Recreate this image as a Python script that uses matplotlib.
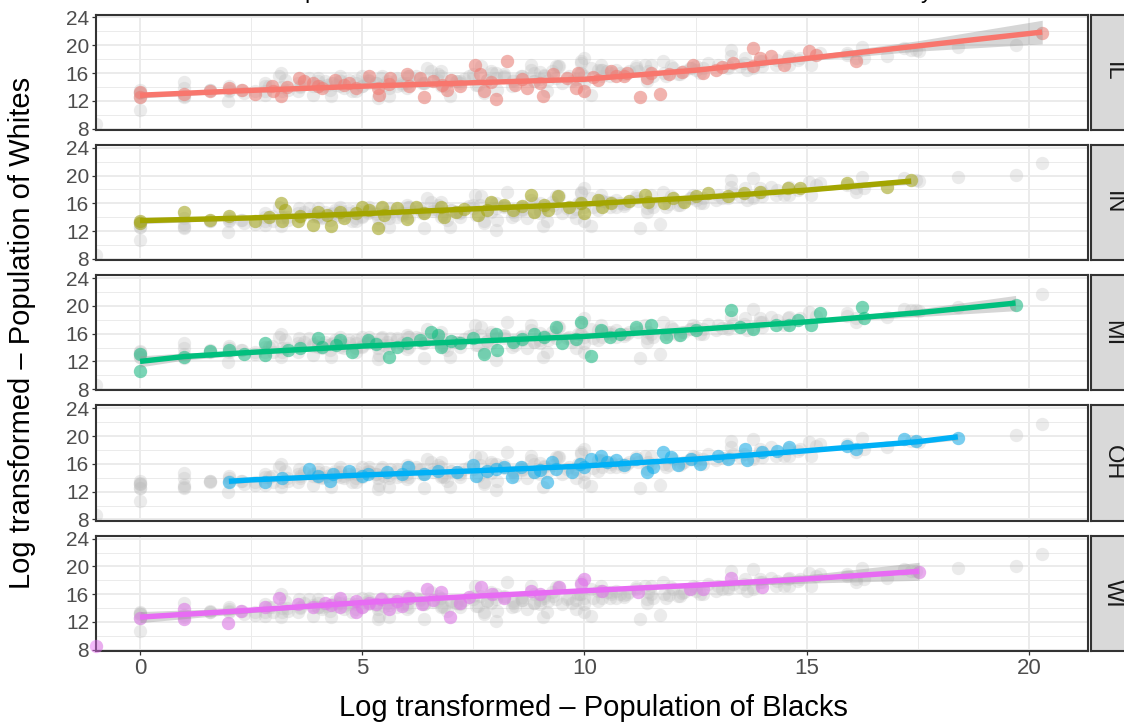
import numpy as np
import matplotlib
matplotlib.use('Agg')
import matplotlib.pyplot as plt

plt.rcParams['font.family'] = ['Liberation Sans', 'DejaVu Sans']

#===== states and ggplot hue colours =====#
states = ['IL', 'IN', 'MI', 'OH', 'WI']
state_colors = ['#F8766D', '#A3A500', '#00BF7D', '#00B0F6', '#E76BF3']

#===== log2 county populations: x = blacks, y = whites =====#
il_black = [0, 0, 0.99, 1.58, 2.0, 2.3, 2.58, 2.98, 3.0, 3.17, 3.3, 3.58, 3.7, 3.9, 4.0, 4.1,
            4.39, 4.6, 4.7, 4.85, 5.16, 5.35, 5.38, 5.6, 5.63, 6.0, 6.06, 6.3, 6.4, 6.6, 6.8,
            6.9, 7.0, 7.2, 7.54, 7.64, 7.74, 7.9, 8.0, 8.26, 8.43, 8.6, 8.7, 9.0, 9.07, 9.3,
            9.6, 9.8, 9.86, 10.0, 10.2, 10.3, 10.6, 10.7, 10.9, 10.95, 11.25, 11.4, 11.5,
            11.7, 11.9, 12.2, 12.45, 12.66, 12.95, 13.1, 13.35, 13.8, 13.8, 13.95, 14.2,
            14.5, 15.05, 15.2, 16.1, 20.3]
il_white = [13.3, 12.6, 13.0, 13.4, 13.9, 13.6, 13.0, 14.2, 13.4, 12.7, 14.0, 15.3, 14.8, 14.5,
            14.1, 13.9, 15.05, 14.3, 14.6, 13.9, 15.5, 13.9, 12.9, 14.4, 15.3, 15.8, 14.1,
            15.3, 12.5, 14.9, 14.3, 13.6, 15.0, 14.1, 17.2, 15.8, 13.4, 14.7, 12.2, 17.7,
            14.3, 15.1, 13.9, 14.6, 12.7, 15.8, 15.3, 13.9, 16.0, 13.4, 15.4, 15.05, 16.25,
            15.5, 15.6, 16.0, 12.5, 15.3, 16.0, 13.0, 15.9, 16.2, 17.2, 16.0, 16.5, 16.8,
            17.45, 19.6, 17.0, 18.2, 18.4, 17.2, 19.1, 18.6, 17.7, 21.75]

in_black = [0, 0, 1.0, 1.58, 2.0, 2.58, 2.9, 3.17, 3.2, 3.27, 3.56, 3.6, 3.9, 4.0, 4.2, 4.3,
            4.49, 4.6, 4.85, 5.0, 5.16, 5.35, 5.45, 5.5, 5.78, 6.0, 6.2, 6.4, 6.78, 6.85, 7.1,
            7.3, 7.6, 7.8, 7.9, 8.2, 8.4, 8.6, 8.8, 8.86, 9.1, 9.18, 9.4, 9.65, 9.93, 10.0,
            10.3, 10.4, 10.6, 11.0, 11.37, 11.44, 11.8, 12.0, 12.23, 12.5, 12.77, 13.23, 13.6,
            13.95, 14.57, 14.85, 15.9, 16.8, 17.35]
in_white = [13.1, 13.5, 14.7, 13.6, 14.2, 13.4, 14.1, 16.0, 13.4, 15.05, 13.4, 14.2, 12.9, 14.8,
            14.3, 12.7, 14.8, 13.9, 14.6, 15.5, 15.05, 12.4, 15.5, 14.3, 15.3, 13.8, 15.5,
            14.6, 15.5, 14.1, 14.8, 15.2, 14.3, 15.0, 16.25, 15.8, 15.05, 15.6, 17.2, 14.8,
            15.7, 15.05, 17.0, 15.5, 16.0, 14.6, 16.5, 15.5, 16.0, 16.3, 17.2, 16.25, 16.0,
            16.7, 16.25, 17.0, 17.45, 17.0, 17.45, 17.7, 18.2, 18.2, 18.9, 18.4, 19.35]

mi_black = [0, 0, 1.0, 1.58, 2.0, 2.34, 2.81, 2.81, 3.34, 3.6, 4.0, 4.1, 4.4, 4.49, 4.78, 5.13,
            5.3, 5.6, 5.78, 6.0, 6.3, 6.54, 6.7, 6.78, 7.0, 7.2, 7.5, 7.74, 8.0, 8.03, 8.4,
            8.6, 8.86, 9.1, 9.36, 9.5, 9.8, 9.93, 10.15, 10.37, 10.58, 10.8, 11.15, 11.5,
            11.84, 12.16, 12.5, 13.3, 13.5, 13.8, 14.3, 14.6, 14.8, 15.1, 15.3, 16.25, 16.3,
            19.7]
mi_white = [13.1, 10.65, 12.65, 13.5, 13.6, 13.1, 14.6, 12.9, 13.6, 14.0, 15.3, 14.1, 14.3,
            15.05, 13.4, 15.05, 14.5, 12.65, 14.1, 14.6, 15.1, 16.25, 15.8, 14.1, 15.0, 14.6,
            15.3, 13.1, 16.0, 13.6, 14.8, 15.2, 16.0, 15.5, 17.0, 14.6, 15.2, 17.7, 12.8,
            16.5, 15.5, 16.0, 17.0, 17.2, 15.5, 15.8, 16.5, 19.35, 17.0, 16.7, 17.2, 17.2,
            17.9, 17.2, 18.9, 19.8, 18.2, 20.1]

oh_black = [2.0, 2.81, 3.2, 3.8, 4.0, 4.27, 4.34, 4.7, 5.0, 5.13, 5.56, 5.9, 6.03, 6.4, 6.7,
            7.14, 7.5, 7.57, 7.8, 8.0, 8.2, 8.36, 8.57, 8.86, 9.0, 9.15, 9.26, 9.36, 9.72,
            9.9, 10.0, 10.15, 10.37, 10.5, 10.72, 10.9, 11.15, 11.4, 11.55, 11.77, 11.94,
            12.1, 12.4, 12.6, 13.0, 13.23, 13.62, 13.66, 14.0, 14.34, 14.6, 15.9, 16.1, 17.2,
            17.46, 18.4]
oh_white = [13.4, 13.4, 14.0, 15.3, 14.2, 13.6, 14.6, 15.05, 14.2, 14.6, 14.8, 14.6, 15.5,
            14.6, 15.0, 14.8, 15.8, 14.3, 15.0, 15.3, 15.6, 14.1, 15.5, 14.8, 15.1, 13.4,
            16.25, 15.3, 14.8, 16.0, 15.5, 16.7, 17.2, 16.25, 16.5, 15.9, 16.7, 14.8, 15.5,
            17.7, 17.0, 15.8, 16.7, 16.0, 17.2, 16.7, 18.2, 16.5, 17.7, 17.9, 18.4, 18.6,
            18.2, 19.6, 19.35, 19.8]

# Menominee has no black residents -> log2(0) = -inf, drawn on the panel edge
wi_black = [-np.inf, 0, 1.0, 1.0, 1.98, 2.27, 2.81, 3.12, 3.56, 3.9, 4.16, 4.3, 4.49, 4.49,
            4.85, 4.85, 5.0, 5.16, 5.3, 5.42, 5.6, 5.78, 5.9, 6.06, 6.35, 6.45, 6.6, 6.78,
            6.97, 7.2, 7.4, 7.68, 7.93, 8.2, 8.79, 9.0, 9.43, 9.93, 10.0, 10.4, 11.2, 12.37,
            12.66, 13.3, 14.0, 17.53]
wi_white = [8.6, 12.6, 13.9, 12.5, 11.9, 13.6, 14.1, 15.5, 14.6, 14.2, 14.8, 14.5, 15.5, 14.1,
            15.05, 13.4, 14.1, 14.8, 14.6, 15.3, 13.9, 15.05, 14.3, 15.5, 14.6, 16.7, 15.2,
            16.25, 12.65, 14.8, 15.6, 17.0, 16.0, 15.4, 16.5, 16.1, 17.0, 17.45, 18.2, 16.4,
            16.3, 16.7, 16.7, 18.4, 17.0, 19.2]

#===== loess fit per state: knots, fitted value, ribbon half width =====#
il_fit_x = [0, 2.5, 5, 7.5, 10, 12.5, 15, 17.5, 20.3]
il_fit_y = [12.8, 13.5, 14.1, 14.6, 15.1, 16.4, 18.1, 19.9, 21.9]
il_fit_se = [0.4, 0.2, 0.15, 0.15, 0.15, 0.2, 0.35, 0.75, 1.7]

in_fit_x = [0, 2.5, 5, 7.5, 10, 12.5, 15, 17.35]
in_fit_y = [13.5, 13.9, 14.5, 15.2, 15.9, 16.8, 17.9, 19.2]
in_fit_se = [0.45, 0.2, 0.15, 0.12, 0.12, 0.15, 0.2, 0.45]

mi_fit_x = [0, 1, 2.5, 5, 7.5, 10, 12.5, 15, 17.5, 19.7]
mi_fit_y = [12.0, 12.7, 13.3, 14.2, 14.9, 15.6, 16.6, 17.7, 19.0, 20.4]
mi_fit_se = [0.8, 0.5, 0.3, 0.15, 0.12, 0.12, 0.15, 0.25, 0.55, 1.1]

oh_fit_x = [2.0, 2.5, 5, 7.5, 10, 12.5, 15, 17.5, 18.4]
oh_fit_y = [13.5, 13.7, 14.4, 15.0, 15.7, 16.7, 17.9, 19.2, 19.9]
oh_fit_se = [0.4, 0.3, 0.15, 0.12, 0.12, 0.15, 0.2, 0.3, 0.45]

wi_fit_x = [0, 2.5, 5, 7.5, 10, 12.5, 15, 17.53]
wi_fit_y = [12.7, 13.7, 14.8, 15.7, 16.5, 17.3, 18.2, 19.3]
wi_fit_se = [0.8, 0.35, 0.15, 0.12, 0.15, 0.3, 0.6, 1.3]

blacks = [il_black, in_black, mi_black, oh_black, wi_black]
whites = [il_white, in_white, mi_white, oh_white, wi_white]
fits = [(il_fit_x, il_fit_y, il_fit_se), (in_fit_x, in_fit_y, in_fit_se),
        (mi_fit_x, mi_fit_y, mi_fit_se), (oh_fit_x, oh_fit_y, oh_fit_se),
        (wi_fit_x, wi_fit_y, wi_fit_se)]

#===== layout (pixels) =====#
W, H = 1124.0, 723.0
p_left, p_right = 96.0, 1088.0
p_top, p_h, p_gap = 14.5, 115.3, 15.0
x_lim = (-0.99, 21.33)
y_lim = (7.82, 24.43)

fig = plt.figure(figsize=(W / 100, H / 100), dpi=100)

all_x = np.concatenate([np.array(b, dtype=float) for b in blacks])
all_y = np.concatenate([np.array(w, dtype=float) for w in whites])
all_x = np.where(np.isinf(all_x), x_lim[0], all_x)

for i, st in enumerate(states):
    top = p_top + i * (p_h + p_gap)
    bottom = 1 - (top + p_h) / H
    ax = fig.add_axes([p_left / W, bottom, (p_right - p_left) / W, p_h / H])

    # every county in grey behind the state's own counties
    ax.scatter(all_x, all_y, s=92, color='#BEBEBE', alpha=0.3, lw=0, zorder=2)
    sx = np.array(blacks[i], dtype=float)
    sx = np.where(np.isinf(sx), x_lim[0], sx)
    ax.scatter(sx, whites[i], s=92, color=state_colors[i], alpha=0.48, lw=0,
               zorder=3, clip_on=False)

    fx, fy, fse = [np.array(v, dtype=float) for v in fits[i]]
    ax.fill_between(fx, fy - fse, fy + fse, color='#999999', alpha=0.4, lw=0, zorder=4)
    ax.plot(fx, fy, color=state_colors[i], lw=3.9, zorder=5, solid_capstyle='butt')

    ax.set_xlim(x_lim)
    ax.set_ylim(y_lim)
    ax.set_xticks([0, 5, 10, 15, 20])
    ax.set_xticks([2.5, 7.5, 12.5, 17.5], minor=True)
    ax.set_yticks([8, 12, 16, 20, 24])
    ax.set_yticks([10, 14, 18, 22], minor=True)
    ax.grid(which='major', color='#EBEBEB', lw=1.4)
    ax.grid(which='minor', color='#EBEBEB', lw=0.7)
    ax.set_axisbelow(True)
    for sp in ax.spines.values():
        sp.set_color('#333333')
        sp.set_linewidth(1.5)
    ax.tick_params(which='minor', length=0)
    ax.tick_params(which='major', length=3, width=0.9, color='#333333',
                   labelcolor='#4D4D4D', pad=2)
    ax.tick_params(axis='y', labelsize=15)
    ax.tick_params(axis='x', labelsize=16)
    if i < len(states) - 1:
        ax.tick_params(axis='x', length=0, labelbottom=False)

    # facet strip on the right
    sax = fig.add_axes([1090.5 / W, bottom, 44 / W, p_h / H])
    sax.set_facecolor('#D9D9D9')
    sax.set_xticks([])
    sax.set_yticks([])
    for sp in sax.spines.values():
        sp.set_color('#333333')
        sp.set_linewidth(1.5)
    sax.text(0.5, 0.5, st, rotation=270, ha='center', va='center',
             fontsize=17, color='#1A1A1A', transform=sax.transAxes)

# plot title sits above the saved area; only its descenders reach the canvas
fig.text(592 / W, 1 + 2.0 / H,
         'Relationship between White and Black Residents in Midwest Counties by State',
         ha='center', va='baseline', fontsize=16.5, color='black')
fig.text(593 / W, 1 - 708 / H, 'Log transformed \u2013 Population of Blacks',
         ha='center', va='center', fontsize=21)
fig.text(22 / W, 1 - 332.7 / H, 'Log transformed \u2013 Population of Whites',
         ha='center', va='center', rotation=90, fontsize=21)

fig.savefig('out.png', dpi=100)
